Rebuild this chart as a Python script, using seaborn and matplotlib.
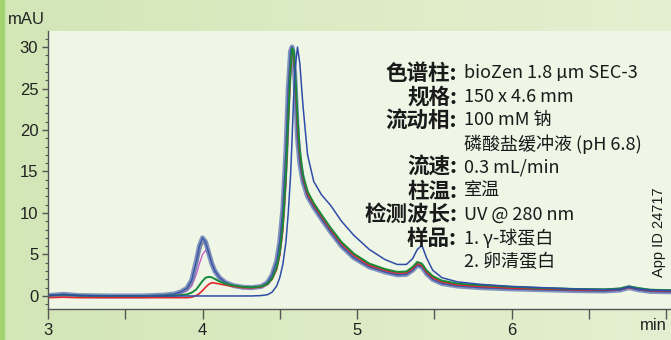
import numpy as np
import matplotlib
matplotlib.use("Agg")
import matplotlib.pyplot as plt
import seaborn as sns
from matplotlib.colors import LinearSegmentedColormap
from matplotlib.ticker import MultipleLocator

# retention time grid (min): front part up to 4.20, main part after
time_front = [3.00, 3.10, 3.20, 3.40, 3.60, 3.75, 3.82, 3.86, 3.90, 3.93,
              3.96, 3.98, 4.00, 4.02, 4.04, 4.06, 4.08, 4.11, 4.15, 4.20]
time_main = [4.26, 4.32, 4.38, 4.42, 4.45, 4.48, 4.50, 4.52, 4.54, 4.555,
             4.57, 4.58, 4.59, 4.60, 4.615, 4.63, 4.65, 4.68, 4.72, 4.77,
             4.83, 4.90, 4.98, 5.08, 5.18, 5.26, 5.32, 5.36, 5.39, 5.42,
             5.45, 5.49, 5.55, 5.65, 5.80, 6.00, 6.20, 6.40, 6.60, 6.70,
             6.76, 6.82, 6.90, 7.03]

# absorbance (mAU)
cluster_front = [0.05, 0.2, 0.05, 0.0, 0.0, 0.1, 0.25, 0.5, 0.95, 1.9,
                 4.2, 6.0, 7.0, 6.5, 5.2, 3.9, 3.0, 2.2, 1.6, 1.25]
magenta_front = [0.05, 0.2, 0.05, 0.0, 0.0, 0.05, 0.15, 0.3, 0.6, 1.2,
                 2.6, 3.9, 5.0, 5.5, 5.0, 4.0, 3.1, 2.2, 1.6, 1.25]
olive_front = [0.05, 0.2, 0.05, 0.0, 0.0, 0.08, 0.2, 0.4, 0.8, 1.6,
               3.5, 5.2, 6.3, 6.4, 5.5, 4.2, 3.2, 2.3, 1.65, 1.25]
green_front = [0.05, 0.15, 0.05, 0.0, 0.0, 0.02, 0.05, 0.1, 0.2, 0.4,
               0.8, 1.3, 1.8, 2.2, 2.3, 2.25, 2.05, 1.75, 1.45, 1.25]
red_front = [-0.2, -0.15, -0.2, -0.2, -0.2, -0.2, -0.2, -0.2, -0.2, -0.15,
             0.05, 0.3, 0.65, 1.05, 1.4, 1.6, 1.55, 1.45, 1.3, 1.15]
blue_front = [0.05, 0.15, 0.05, 0.0, 0.0, 0.0, 0.0, 0.0, 0.0, 0.0,
              0.0, 0.0, 0.0, 0.0, 0.0, 0.0, 0.0, 0.0, 0.0, 0.0]

cluster_main = [1.05, 1.0, 1.15, 1.6, 2.5, 4.2, 6.5, 10.5, 17.5, 25.0,
                29.5, 30.0, 28.8, 25.5, 19.0, 16.0, 13.8, 12.0, 10.7, 9.3,
                7.7, 6.0, 4.6, 3.5, 2.9, 2.55, 2.6, 3.1, 3.7, 3.5,
                2.7, 2.0, 1.5, 1.2, 1.0, 0.85, 0.75, 0.65, 0.6, 0.7,
                1.0, 0.75, 0.55, 0.5]
green_main = [1.1, 1.05, 1.15, 1.45, 2.1, 3.4, 5.2, 8.5, 14.5, 21.5,
              27.5, 29.8, 29.6, 27.0, 21.5, 17.5, 14.6, 12.6, 11.2, 9.8,
              8.2, 6.5, 5.1, 3.9, 3.25, 2.9, 2.95, 3.5, 4.1, 3.9,
              3.1, 2.4, 1.85, 1.5, 1.3, 1.1, 0.95, 0.85, 0.8, 0.9,
              1.15, 0.95, 0.75, 0.7]
red_main = [1.0, 0.98, 1.08, 1.4, 2.0, 3.2, 4.9, 8.0, 14.0, 21.0,
            27.0, 29.6, 29.3, 26.3, 20.6, 17.0, 14.3, 12.3, 11.0, 9.6,
            8.0, 6.3, 4.9, 3.7, 3.1, 2.75, 2.8, 3.3, 3.9, 3.7,
            2.9, 2.2, 1.7, 1.35, 1.15, 0.95, 0.85, 0.75, 0.7, 0.8,
            1.05, 0.85, 0.65, 0.6]
blue_main = [0.0, 0.0, 0.05, 0.15, 0.45, 1.2, 2.2, 3.8, 6.5, 10.0,
             14.5, 19.0, 24.0, 27.5, 30.0, 28.0, 23.0, 17.0, 13.8, 12.2,
             10.9, 9.0, 7.3, 5.6, 4.4, 3.8, 3.8, 4.5, 5.6, 6.1,
             4.6, 3.1, 2.2, 1.7, 1.4, 1.15, 1.0, 0.85, 0.75, 0.8,
             1.1, 0.85, 0.7, 0.65]

labels = ["色谱柱", "规格", "流动相", "", "流速", "柱温", "检测波长", "样品", ""]
values = ["bioZen 1.8 µm SEC-3", "150 x 4.6 mm", "100 mM 钠",
          "磷酸盐缓冲液 (pH 6.8)", "0.3 mL/min", "室温", "UV @ 280 nm",
          "1. γ-球蛋白", "2. 卵清蛋白"]

time = time_front + time_main
traces = [
    (olive_front + cluster_main, "#8c7c3c", 0.9, 1.0),
    (magenta_front + cluster_main, "#c452c4", 0.9, 1.0),
    (cluster_front + cluster_main, "#6f83b8", 3.6, 0.85),
    (cluster_front + cluster_main, "#3b56a6", 1.0, 1.0),
    (red_front + red_main, "#e2252b", 1.2, 1.0),
    (green_front + green_main, "#178a3a", 1.4, 1.0),
    (blue_front + blue_main, "#2f4ca8", 1.1, 1.0),
]

sns.set_theme(style="ticks")
plt.rcParams["font.family"] = ["Liberation Sans", "Noto Sans CJK SC"]

W, H = 671, 340
fig = plt.figure(figsize=(W / 100, H / 100), dpi=100)

# green background gradient with a bright strip on the left
bg = fig.add_axes([0, 0, 1, 1], zorder=-10)
cmap = LinearSegmentedColormap.from_list("bg", ["#d2e6b6", "#dcebc4", "#e4efd1"])
bg.imshow(np.linspace(0, 1, 256).reshape(1, -1), aspect="auto", cmap=cmap,
          extent=[0, 1, 0, 1])
bg.axvspan(0, 4 / W, color="#a3d270")
bg.set_xlim(0, 1)
bg.set_ylim(0, 1)
bg.axis("off")

ax = fig.add_axes([48 / W, 1 - 309 / H, (W - 48) / W, (309 - 31) / H])
ax.set_facecolor("#eff6e6")

for y, color, lw, alpha in traces:
    sns.lineplot(x=time, y=y, ax=ax, color=color, linewidth=lw, alpha=alpha,
                 sort=False, estimator=None)

ax.set_xlim(3, 3 + (W - 48) / 154.5)
ax.set_ylim(-1.57, 31.93)
sns.despine(ax=ax)
for s in ["left", "bottom"]:
    ax.spines[s].set_color("#555555")
    ax.spines[s].set_linewidth(1.0)

ax.set_xticks([3, 4, 5, 6])
ax.xaxis.set_minor_locator(MultipleLocator(0.5))
ax.set_yticks([0, 5, 10, 15, 20, 25, 30])
ax.yaxis.set_minor_locator(MultipleLocator(1))
ax.tick_params(axis="x", which="both", direction="out", length=7, width=1,
               color="#555555", labelsize=12, pad=3, labelcolor="#222222")
ax.tick_params(axis="y", which="major", direction="out", length=4, width=1,
               color="#555555", labelsize=12, pad=3, labelcolor="#222222")
ax.tick_params(axis="y", which="minor", direction="out", length=2, width=0.8,
               color="#555555")
ax.set_xlabel("")
ax.set_ylabel("")
ax.grid(False)

fig.text(8 / W, 1 - 20 / H, "mAU", fontsize=12, color="#222222", va="center")
fig.text(667 / W, 1 - 326 / H, "min", fontsize=12, color="#222222",
         va="center", ha="right")

row0, step = 73, 23.6
for i, (lab, val) in enumerate(zip(labels, values)):
    yy = 1 - (row0 + i * step) / H
    if lab:
        fig.text(457 / W, yy, lab + ":", fontsize=15.5, fontweight="bold",
                 color="#1a1a1a", ha="right", va="center",
                 family=["Noto Sans CJK SC", "DejaVu Sans"])
    fig.text(464 / W, yy, val, fontsize=13, color="#1a1a1a", ha="left",
             va="center", family=["Noto Sans CJK SC", "DejaVu Sans"])

fig.text(659 / W, 1 - 232 / H, "App ID 24717", fontsize=10.5, rotation=90,
         color="#1a1a1a", ha="center", va="center")

fig.savefig("out.png", dpi=100)
